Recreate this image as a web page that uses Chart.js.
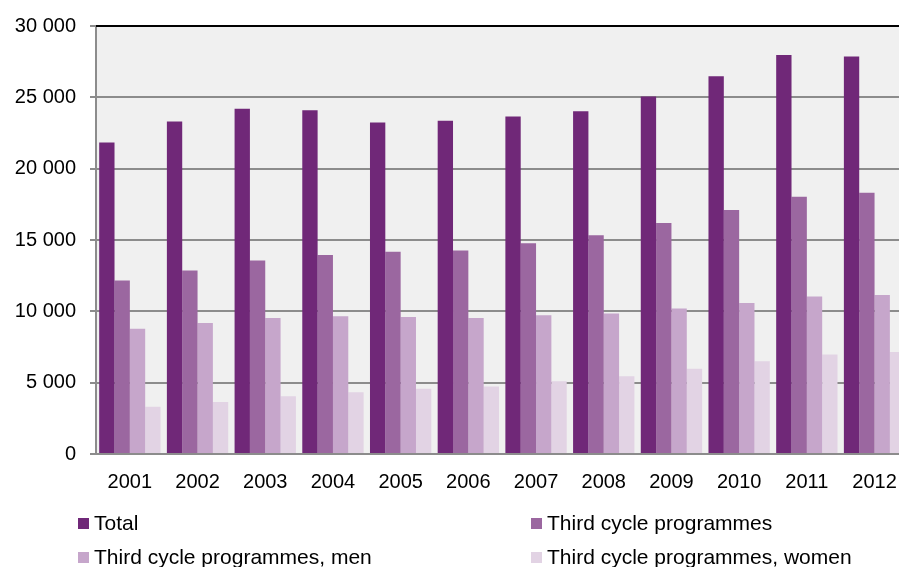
<!DOCTYPE html>
<html>
<head>
<meta charset="utf-8">
<script src="https://cdn.jsdelivr.net/npm/chart.js@4.4.1/dist/chart.umd.min.js"></script>
<style>
    html, body {
        margin: 0;
        padding: 0;
        background: #ffffff;
        overflow: hidden;
        width: 899px;
        height: 567px;
        font-family: "Liberation Sans", Arial, sans-serif;
    }
    #wrap {
        position: absolute;
        left: 0;
        top: 0;
        width: 920px;
        height: 567px;
    }
    .legend-item {
        position: absolute;
        display: flex;
        align-items: flex-start;
        font-size: 21px;
        line-height: 21px;
        color: #000000;
        white-space: nowrap;
    }
    .legend-box {
        width: 11px;
        height: 11px;
        margin-top: 6px;
        margin-right: 5px;
    }
</style>
</head>
<body>
<div id="wrap"><canvas id="bars"></canvas></div>
<div id="legend"></div>

<script>
const years = ["2001", "2002", "2003", "2004", "2005", "2006", "2007", "2008", "2009", "2010", "2011", "2012"];
const total = [21830, 23300, 24200, 24100, 23230, 23350, 23650, 24020, 25050, 26470, 27960, 27870];
const thirdCycle = [12160, 12860, 13560, 13950, 14170, 14260, 14770, 15330, 16190, 17100, 18030, 18310];
const thirdCycleMen = [8780, 9180, 9530, 9650, 9600, 9530, 9720, 9850, 10200, 10580, 11040, 11140];
const thirdCycleWomen = [3310, 3640, 4050, 4330, 4570, 4730, 5100, 5450, 5970, 6500, 6970, 7150];
const seriesNames = ["Total", "Third cycle programmes", "Third cycle programmes, men", "Third cycle programmes, women"];
const yTicks = [0, 5000, 10000, 15000, 20000, 25000, 30000];

document.addEventListener("DOMContentLoaded", function() {
    const colors = ["#702878", "#9b67a0", "#c6a6cb", "#e2d3e4"];
    const font = { family: "'Liberation Sans', Arial, sans-serif", size: 20 };

    // plot background and the black line along the top
    const frame = {
        id: "frame",
        beforeDraw(chart) {
            const a = chart.chartArea;
            const ctx = chart.ctx;
            ctx.save();
            ctx.fillStyle = "#f0f0f0";
            ctx.fillRect(a.left, a.top, a.right - a.left, a.bottom - a.top);
            ctx.restore();
        },
        afterDraw(chart) {
            const a = chart.chartArea;
            const ctx = chart.ctx;
            ctx.save();
            ctx.strokeStyle = "#000000";
            ctx.lineWidth = 2;
            ctx.beginPath();
            ctx.moveTo(a.left, a.top);
            ctx.lineTo(a.right, a.top);
            ctx.stroke();
            ctx.restore();
        }
    };

    const data = {
        labels: years,
        datasets: [total, thirdCycle, thirdCycleMen, thirdCycleWomen].map(function(values, i) {
            return {
                label: seriesNames[i],
                data: values,
                backgroundColor: colors[i],
                borderWidth: 0,
                categoryPercentage: 0.906,
                barPercentage: 1
            };
        })
    };

    const options = {
        responsive: true,
        maintainAspectRatio: false,
        animation: false,
        layout: {
            padding: { top: 25, right: 11.6, left: 0, bottom: 0 }
        },
        plugins: {
            legend: { display: false },
            tooltip: { enabled: false }
        },
        scales: {
            x: {
                afterFit: function(scale) { scale.height = 113; },
                grid: { display: false, drawTicks: false },
                border: { display: true, color: "#8c8c8c", width: 2 },
                ticks: { color: "#000000", font: font, padding: 16, maxRotation: 0 }
            },
            y: {
                min: 0,
                max: 30000,
                afterFit: function(scale) { scale.width = 96; },
                afterBuildTicks: function(scale) {
                    scale.ticks = yTicks.map(function(v) { return { value: v }; });
                },
                grid: { color: "#8c8c8c", lineWidth: 2, tickLength: 6, drawTicks: true },
                border: { display: true, color: "#8c8c8c", width: 2 },
                ticks: {
                    color: "#000000",
                    font: font,
                    padding: 14,
                    callback: function(v) {
                        return String(v).replace(/\B(?=(\d{3})+(?!\d))/g, " ");
                    }
                }
            }
        }
    };

    let ctx = document.getElementById("bars").getContext("2d");
    let barChart = new Chart(ctx, {
        type: "bar",
        data: data,
        options: options,
        plugins: [frame]
    });

    // two-column legend under the chart
    const spots = [[78, 512], [531, 512], [78, 546], [531, 546]];
    const legend = document.getElementById("legend");
    barChart.data.datasets.forEach(function(ds, i) {
        const item = document.createElement("div");
        item.className = "legend-item";
        item.style.left = spots[i][0] + "px";
        item.style.top = spots[i][1] + "px";
        const box = document.createElement("span");
        box.className = "legend-box";
        box.style.background = ds.backgroundColor;
        const text = document.createElement("span");
        text.textContent = ds.label;
        item.appendChild(box);
        item.appendChild(text);
        legend.appendChild(item);
    });
});
</script>
</body>
</html>
